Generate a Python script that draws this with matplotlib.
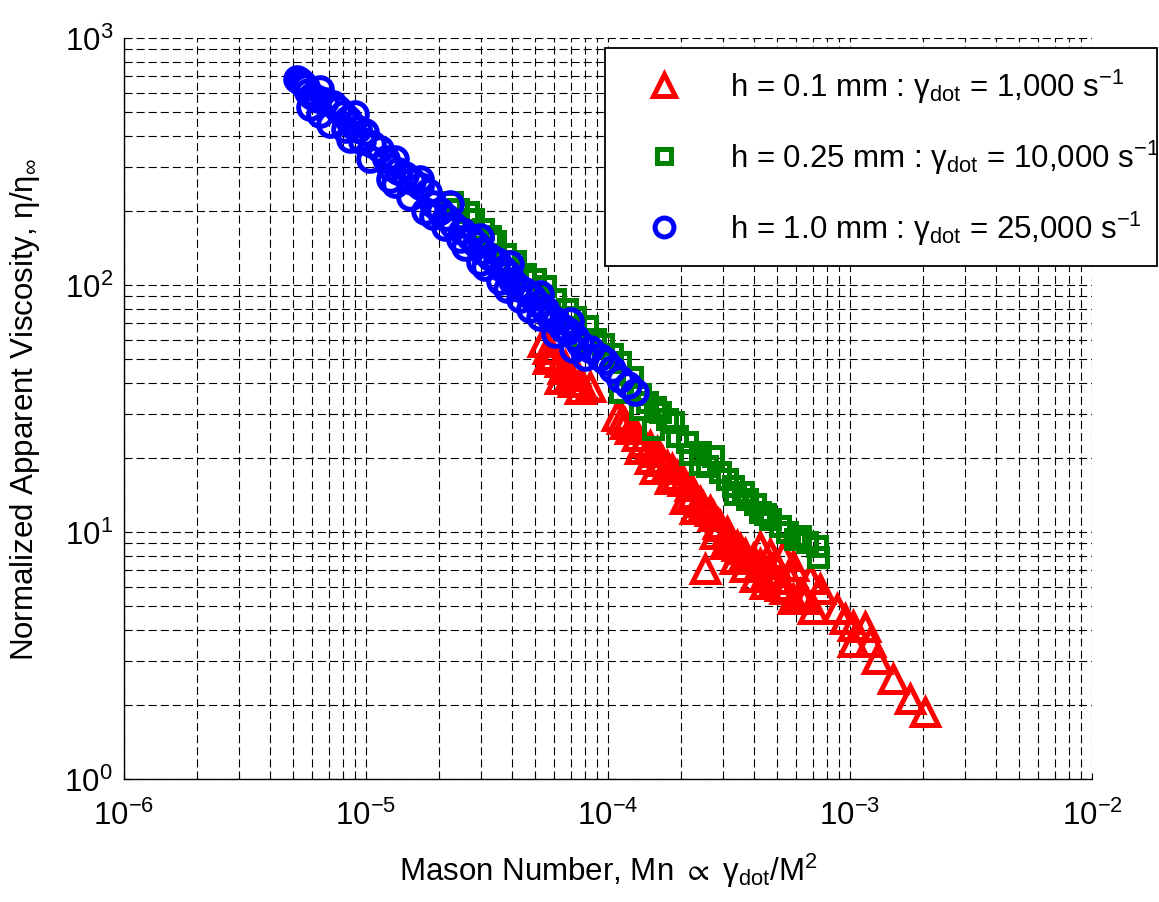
import numpy as np
import matplotlib
matplotlib.use("Agg")
import matplotlib.pyplot as plt
from matplotlib.ticker import LogLocator, NullFormatter

# ---------------- data ----------------
red_mn = [5.39e-5, 5.65e-5, 5.93e-5, 6.34e-5, 6.64e-5, 6.97e-5, 6.52e-5, 7.17e-5, 7.66e-5, 8.43e-5,
          7.66e-5, 6.34e-5, 1.09e-4, 1.14e-4, 1.17e-4, 1.23e-4, 1.32e-4, 1.40e-4, 1.49e-4, 1.59e-4,
          1.67e-4, 1.75e-4, 1.84e-4, 1.93e-4, 2.04e-4, 2.18e-4, 2.24e-4, 2.40e-4, 2.47e-4, 2.64e-4,
          2.72e-4, 2.85e-4, 2.90e-4, 3.10e-4, 3.19e-4, 3.41e-4, 3.51e-4, 3.68e-4, 3.97e-4, 4.25e-4,
          4.54e-4, 4.67e-4, 4.90e-4, 5.14e-4, 5.38e-4, 5.28e-4, 5.81e-4, 5.81e-4, 6.21e-4, 6.52e-4,
          7.03e-4, 7.52e-4, 8.83e-4, 1.03e-3, 1.03e-3, 1.21e-3, 1.29e-3, 1.51e-3, 1.77e-3, 2.04e-3,
          2.52e-4, 1.56e-4, 2.08e-4, 2.77e-4, 3.68e-4, 4.46e-4,
          1.36e-4, 1.49e-4, 1.80e-4, 2.29e-4, 3.04e-4, 3.35e-4, 4.05e-4, 4.25e-4, 4.90e-4, 6.84e-4,
          5.65e-4, 9.53e-4, 1.15e-3, 5.65e-5, 7.31e-5]
red_eta = [58.8, 55.1, 51.6, 48.8, 47.0, 42.8, 45.7, 40.5, 40.5, 38.6,
           37.9, 41.6, 29.5, 28.7, 27.4, 26.1, 24.5, 23.1, 22.3, 21.1,
           19.4, 18.5, 18.0, 16.9, 16.1, 15.4, 14.3, 13.2, 12.6, 12.2,
           11.6, 10.8, 10.6, 10.0, 9.37, 8.78, 8.53, 8.15, 7.78, 7.42,
           6.89, 8.15, 6.45, 6.04, 5.88, 8.00, 7.28, 5.35, 5.61, 5.35,
           4.88, 5.88, 4.88, 4.16, 3.59, 3.59, 3.06, 2.54, 2.11, 1.87,
           7.08, 18.0, 13.6, 9.82, 7.21, 6.16,
           21.7, 19.8, 16.4, 12.4, 8.94, 7.78, 6.58, 8.69, 7.42, 6.45,
           6.45, 4.45, 4.12, 50.1, 44.9]

green_mn = [2.27e-5, 2.40e-5, 2.64e-5, 2.77e-5, 3.04e-5, 3.25e-5, 3.41e-5, 3.75e-5, 4.13e-5, 3.86e-5,
            4.54e-5, 4.99e-5, 5.50e-5, 6.04e-5, 6.77e-5, 7.31e-5, 8.18e-5, 7.88e-5, 8.83e-5, 9.53e-5,
            1.04e-4, 1.12e-4, 1.26e-4, 1.12e-4, 1.36e-4, 1.45e-4, 1.56e-4, 1.64e-4, 1.75e-4, 1.86e-4,
            1.53e-4, 1.93e-4, 2.12e-4, 2.40e-4, 2.72e-4, 2.56e-4, 2.90e-4, 3.10e-4, 3.29e-4, 3.61e-4,
            3.75e-4, 4.05e-4, 4.25e-4, 4.67e-4, 5.14e-4, 5.49e-4, 6.21e-4, 6.64e-4, 7.31e-4, 7.38e-4,
            2.40e-4, 3.35e-4, 4.46e-4, 5.93e-4, 1.36e-4, 2.18e-4]
green_eta = [217, 203, 198, 185, 169, 158, 151, 134, 125, 116,
             111, 106, 99, 87.8, 80, 74.2, 68.2, 58.8, 60.4, 57.7,
             52.6, 48.8, 42.4, 36.9, 36.2, 33.6, 32.1, 30.6, 28.7, 27.9,
             26.1, 24.5, 23.1, 21.1, 20.3, 18.5, 17.5, 16.4, 15.4, 14.5,
             13.6, 13.0, 12.1, 11.3, 10.6, 10.0, 9.64, 9.11, 8.78, 7.92,
             18.9, 14.3, 11.8, 9.37, 31.5, 20.7]

blue_mn = [5.19e-6, 5.34e-6, 5.49e-6, 5.65e-6, 5.76e-6, 5.98e-6, 6.34e-6, 6.77e-6, 7.31e-6, 7.66e-6,
           8.04e-6, 8.43e-6, 8.75e-6, 9.27e-6, 9.91e-6, 9.62e-6, 1.06e-5, 1.14e-5, 1.21e-5, 1.26e-5,
           1.36e-5, 1.45e-5, 1.55e-5, 1.67e-5, 1.80e-5, 1.89e-5, 2.02e-5, 2.14e-5, 2.29e-5, 2.49e-5,
           2.69e-5, 2.85e-5, 3.02e-5, 3.25e-5, 3.48e-5, 3.68e-5, 3.86e-5, 4.01e-5, 4.25e-5, 4.54e-5,
           4.85e-5, 5.14e-5, 5.50e-5, 5.76e-5, 6.10e-5, 6.46e-5, 6.84e-5, 7.31e-5, 7.66e-5, 8.43e-5,
           9.27e-5, 9.72e-5, 1.04e-4, 1.12e-4, 1.21e-4, 1.29e-4,
           1.89e-5, 2.44e-5, 2.96e-5, 3.83e-5, 4.76e-5, 6.52e-5, 7.17e-5, 1.32e-5, 8.19e-6, 6.46e-6,
           5.87e-6, 7.10e-6, 8.59e-6, 1.04e-5, 1.26e-5, 1.52e-5, 1.75e-5, 2.12e-5, 2.56e-5, 3.10e-5,
           3.58e-5, 4.33e-5, 5.24e-5, 6.04e-5, 8.04e-5,
           6.46e-6, 9.01e-6, 1.32e-5, 1.67e-5, 2.22e-5, 2.96e-5, 3.94e-5, 5.24e-5, 6.97e-5]
blue_eta = [682, 670, 651, 634, 604, 582, 566, 556, 541, 516,
            492, 470, 444, 428, 416, 383, 372, 355, 324, 300,
            289, 279, 264, 252, 238, 213, 199, 188, 175, 165,
            156, 147, 137, 130, 125, 116, 111, 104, 98, 94.6,
            89.4, 83.8, 80, 74.2, 71.5, 67.6, 65.1, 61.5, 57.7, 55.1,
            51.1, 49.3, 45.7, 41.6, 39.4, 36.9,
            190, 154, 124, 96.3, 80, 66.4, 55.1, 256, 428, 492,
            526, 449, 390, 324, 269, 227, 199, 172, 143, 118,
            104, 87.8, 74.2, 63.3, 51.1,
            622, 492, 324, 269, 213, 156, 122, 92, 71.5]

series_labels = [r"h = 0.1 mm : γ$_{\mathrm{dot}}$ = 1,000 s$^{-1}$",
                 r"h = 0.25 mm : γ$_{\mathrm{dot}}$ = 10,000 s$^{-1}$",
                 r"h = 1.0 mm : γ$_{\mathrm{dot}}$ = 25,000 s$^{-1}$"]
x_label = r"Mason Number, Mn $\propto$ γ$_{\mathrm{dot}}$/M$^{2}$"
y_label = r"Normalized Apparent Viscosity, η/η$_{\infty}$"

# ---------------- style ----------------
plt.rcParams['font.family'] = ['Liberation Sans', 'DejaVu Sans']
plt.rcParams['mathtext.fontset'] = 'custom'
plt.rcParams['mathtext.rm'] = 'Liberation Sans'
plt.rcParams['mathtext.it'] = 'Liberation Sans'
plt.rcParams['mathtext.bf'] = 'Liberation Sans:bold'
plt.rcParams['mathtext.fallback'] = 'stixsans'
plt.rcParams['axes.unicode_minus'] = False
plt.rcParams['lines.scale_dashes'] = False

fig = plt.figure(figsize=(11.59, 9.03), dpi=100)
ax = fig.add_axes([124/1159, 1-780/903, (1092-124)/1159, (780-39)/903])

ax.set_xscale('log')
ax.set_yscale('log')
ax.set_xlim(1e-6, 1e-2)
ax.set_ylim(1e0, 1e3)

mew = 3.6
ax.plot(red_mn, red_eta, ls='none', marker='^', ms=19, mfc='none', mec=(1, 0, 0), mew=mew,
        label=series_labels[0], zorder=3)
ax.plot(green_mn, green_eta, ls='none', marker='s', ms=13, mfc='none', mec=(0, 0.5, 0), mew=mew,
        label=series_labels[1], zorder=4)
ax.plot(blue_mn, blue_eta, ls='none', marker='o', ms=17, mfc='none', mec=(0, 0, 1), mew=mew,
        label=series_labels[2], zorder=5)

for axis in (ax.xaxis, ax.yaxis):
    axis.set_major_locator(LogLocator(base=10, numticks=20))
    axis.set_minor_locator(LogLocator(base=10, subs=np.arange(2, 10), numticks=20))
    axis.set_minor_formatter(NullFormatter())

ax.set_axisbelow(True)
ax.grid(True, which='both', color='k', lw=0.8, linestyle=(0, (5.8, 2.9)))

for s in ('top', 'right'):
    ax.spines[s].set_visible(False)
for s in ('left', 'bottom'):
    ax.spines[s].set_linewidth(1.0)
    ax.spines[s].set_color('k')

ax.tick_params(which='major', direction='in', length=4, width=0.8, labelsize=22.5,
               top=False, right=False)
ax.tick_params(axis='x', which='major', pad=15)
ax.tick_params(axis='y', which='major', pad=8)
ax.tick_params(which='minor', direction='in', length=3, width=0.8, top=False, right=False)

ax.set_xlabel(x_label, fontsize=22.5)
ax.set_ylabel(y_label, fontsize=22.5)
ax.xaxis.set_label_coords(0.5, -0.097)
ax.yaxis.set_label_coords(-0.085, 0.5)

leg = ax.legend(loc='upper left', bbox_to_anchor=(605/1159, 1-260/903, (1157-605)/1159, 211/903),
                bbox_transform=fig.transFigure, mode='expand', fontsize=22.5, frameon=True,
                fancybox=False, edgecolor='k', framealpha=1, borderpad=0.6, labelspacing=1.05,
                handlelength=2.6, handletextpad=0.8, borderaxespad=0, markerscale=0.8)
leg.get_frame().set_linewidth(1.3)
leg.set_zorder(10)

fig.savefig('out.png', dpi=100)
